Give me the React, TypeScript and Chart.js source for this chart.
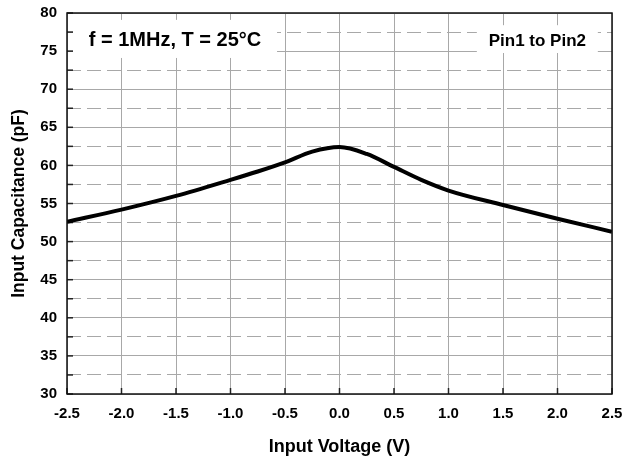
import React, { useEffect, useRef } from "react";
import { Chart, registerables } from "chart.js";

Chart.register(...registerables);

const voltages = [-2.5, -2.0, -1.5, -1.0, -0.75, -0.5, -0.25, 0.0, 0.25, 0.5, 0.75, 1.0, 1.5, 2.0, 2.5];
const capacitance = [52.6, 54.2, 56.0, 58.1, 59.2, 60.4, 61.8, 62.4, 61.5, 59.8, 58.1, 56.7, 54.8, 53.0, 51.3];
const xTitle = "Input Voltage (V)";
const yTitle = "Input Capacitance (pF)";
const note1 = "f = 1MHz, T = 25°C";
const note2 = "Pin1 to Pin2";

const FONT = "'Liberation Sans', Arial, sans-serif";

const framePlugin = {
  id: "frame",
  beforeDatasetsDraw(chart: any) {
    const { ctx, chartArea: a, scales } = chart;
    const xs = scales.x;
    const ys = scales.y;
    ctx.save();
    // inward ticks
    ctx.strokeStyle = "#222";
    ctx.lineWidth = 1.5;
    ys.ticks.forEach((t: any) => {
      const y = ys.getPixelForValue(t.value);
      ctx.beginPath();
      ctx.moveTo(a.left, y);
      ctx.lineTo(a.left + 6, y);
      ctx.stroke();
    });
    xs.ticks.forEach((t: any) => {
      const x = xs.getPixelForValue(t.value);
      ctx.beginPath();
      ctx.moveTo(x, a.bottom);
      ctx.lineTo(x, a.bottom - 6);
      ctx.stroke();
    });
    // note boxes
    const box = (x0: number, x1: number, y0: number, y1: number, text: string, size: number) => {
      const px0 = xs.getPixelForValue(x0);
      const px1 = xs.getPixelForValue(x1);
      const py0 = ys.getPixelForValue(y0);
      const py1 = ys.getPixelForValue(y1);
      ctx.fillStyle = "#fff";
      ctx.fillRect(px0, py0, px1 - px0, py1 - py0);
      ctx.fillStyle = "#000";
      ctx.font = `bold ${size}px ${FONT}`;
      ctx.textAlign = "center";
      ctx.textBaseline = "middle";
      ctx.fillText(text, (px0 + px1) / 2, (py0 + py1) / 2 + 2);
    };
    box(-2.445, -0.573, 79.1, 74.1, note1, 20);
    box(1.26, 2.37, 78.4, 74.75, note2, 17);
    ctx.restore();
  },
  afterDatasetsDraw(chart: any) {
    const { ctx, chartArea: a } = chart;
    ctx.save();
    ctx.strokeStyle = "#111";
    ctx.lineWidth = 1.5;
    ctx.strokeRect(a.left, a.top, a.right - a.left, a.bottom - a.top);
    ctx.restore();
  },
};

export default function App() {
  const ref = useRef<HTMLCanvasElement>(null);
  useEffect(() => {
    if (!ref.current) return;
    const chart = new Chart(ref.current, {
      type: "line",
      data: {
        datasets: [
          {
            data: voltages.map((v, i) => ({ x: v, y: capacitance[i] })),
            borderColor: "#000",
            borderWidth: 4,
            pointRadius: 0,
            cubicInterpolationMode: "monotone",
            fill: false,
          },
        ],
      },
      options: {
        animation: false,
        responsive: false,
        layout: { padding: { top: 13, right: 11, left: 0, bottom: 0 } },
        plugins: { legend: { display: false }, tooltip: { enabled: false } },
        scales: {
          x: {
            type: "linear",
            min: -2.5,
            max: 2.5,
            afterFit: (s: any) => {
              s.height = 68;
              s.paddingLeft = 0;
              s.paddingRight = 0;
            },
            ticks: {
              stepSize: 0.5,
              autoSkip: false,
              color: "#000",
              font: { family: FONT, size: 15, weight: "bold" },
              padding: 5,
              maxRotation: 0,
              callback: (v: any) => Number(v).toFixed(1),
            },
            grid: { color: "#a8a8a8", lineWidth: 1, drawTicks: true, tickLength: 6, tickColor: "rgba(0,0,0,0)" },
            border: { display: false },
            title: {
              display: true,
              text: xTitle,
              color: "#000",
              font: { family: FONT, size: 18, weight: "bold" },
              padding: { top: 0, bottom: 4 },
            },
          },
          y: {
            type: "linear",
            min: 30,
            max: 80,
            afterFit: (s: any) => {
              s.width = 67;
              s.paddingTop = 0;
              s.paddingBottom = 0;
            },
            ticks: {
              stepSize: 2.5,
              autoSkip: false,
              color: "#000",
              font: { family: FONT, size: 15, weight: "bold" },
              padding: 10,
              callback: (v: any) => (Number(v) % 5 === 0 ? String(v) : ""),
            },
            grid: {
              color: "#a8a8a8",
              lineWidth: 1,
              drawTicks: false,
            },
            border: {
              display: false,
              dash: (ctx: any) => (ctx.tick && ctx.tick.value % 5 !== 0 ? [14, 6] : []),
            },
            title: {
              display: true,
              text: yTitle,
              color: "#000",
              font: { family: FONT, size: 17.5, weight: "bold" },
              padding: { top: 9, bottom: 0 },
            },
          },
        },
      },
      plugins: [framePlugin],
    } as any);
    return () => chart.destroy();
  }, []);
  return (
    <div style={{ position: "absolute", left: 0, top: 0, width: 623, height: 462, background: "#fff" }}>
      <canvas ref={ref} width={623} height={462} style={{ display: "block" }} />
    </div>
  );
}
